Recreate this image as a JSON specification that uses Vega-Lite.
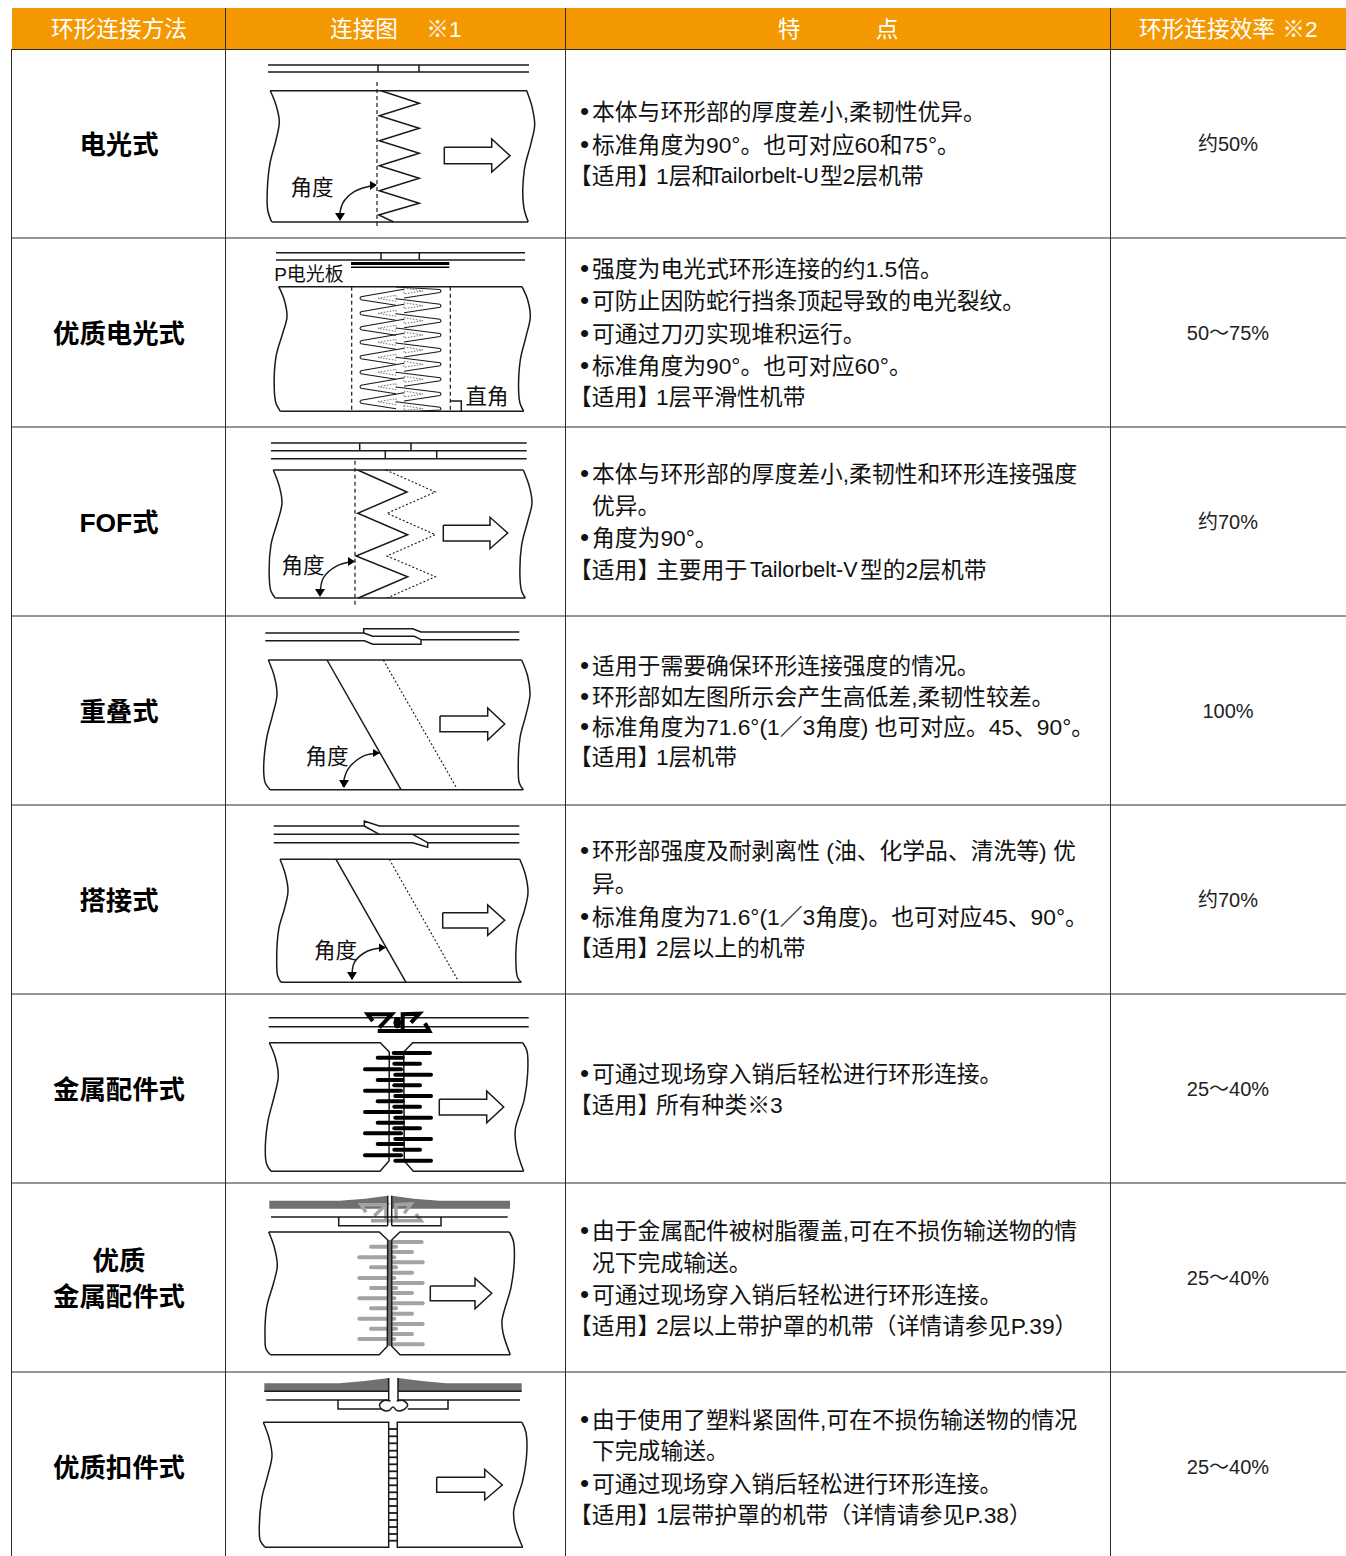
{"$schema":"https://vega.github.io/schema/vega-lite/v6.json","width":1346,"height":1556,"padding":0,"autosize":{"type":"none"},"background":"white","config":{"view":{"stroke":null}},
"encoding":{"x":{"field":"x","type":"quantitative","scale":{"domain":[0,1346],"nice":false,"zero":false},"axis":null},"y":{"field":"y","type":"quantitative","scale":{"domain":[1556,0],"nice":false,"zero":false},"axis":null}},
"datasets":{
"header":[{"x":12,"x2":1346,"y":8,"y2":49}],
"grid":[{"p":"a","x":225.5,"y":8},{"p":"a","x":225.5,"y":1556},{"p":"b","x":565.5,"y":49},{"p":"b","x":565.5,"y":1556},{"p":"c","x":1110.5,"y":49},{"p":"c","x":1110.5,"y":1556},{"p":"d","x":11.5,"y":49},{"p":"d","x":11.5,"y":1556},{"p":"e","x":12,"y":238},{"p":"e","x":1346,"y":238},{"p":"f","x":12,"y":427},{"p":"f","x":1346,"y":427},{"p":"g","x":12,"y":616},{"p":"g","x":1346,"y":616},{"p":"h","x":12,"y":805},{"p":"h","x":1346,"y":805},{"p":"i","x":12,"y":994},{"p":"i","x":1346,"y":994},{"p":"j","x":12,"y":1183},{"p":"j","x":1346,"y":1183},{"p":"k","x":12,"y":1372},{"p":"k","x":1346,"y":1372},{"p":"l","x":12,"y":49.5},{"p":"l","x":1346,"y":49.5},{"p":"m","x":565.5,"y":8},{"p":"m","x":565.5,"y":49},{"p":"n","x":1110.5,"y":8},{"p":"n","x":1110.5,"y":49}],
"solid":[
{"p":"1a","x":268,"y":65},{"p":"1a","x":529,"y":65},{"p":"1b","x":268,"y":72},{"p":"1b","x":529,"y":72},{"p":"1c","x":378,"y":65},{"p":"1c","x":378,"y":72},{"p":"1d","x":419,"y":65},{"p":"1d","x":419,"y":72},{"p":"1e","x":270,"y":90.7},{"p":"1e","x":527,"y":90.7},{"p":"1f","x":272,"y":222},{"p":"1f","x":528,"y":222},
{"p":"1z","x":381,"y":90.7},{"p":"1z","x":419.3,"y":103.3},{"p":"1z","x":379.3,"y":115.7},{"p":"1z","x":419.3,"y":128.3},{"p":"1z","x":379.3,"y":140.7},{"p":"1z","x":419.3,"y":153.3},{"p":"1z","x":379.3,"y":165.7},{"p":"1z","x":419.3,"y":178.3},{"p":"1z","x":379.3,"y":190.7},{"p":"1z","x":419.3,"y":203.3},{"p":"1z","x":378.7,"y":215},{"p":"1z","x":393.7,"y":222},
{"p":"1r","x":444.3,"y":147.3},{"p":"1r","x":491.7,"y":147.3},{"p":"1r","x":491.7,"y":139},{"p":"1r","x":510,"y":155.7},{"p":"1r","x":491.7,"y":172},{"p":"1r","x":491.7,"y":163.7},{"p":"1r","x":444.3,"y":163.7},{"p":"1r","x":444.3,"y":147.3},
{"p":"2a","x":276,"y":252.7},{"p":"2a","x":525,"y":252.7},{"p":"2b","x":276,"y":260},{"p":"2b","x":525,"y":260},{"p":"2c","x":381,"y":252.7},{"p":"2c","x":381,"y":260},{"p":"2d","x":419.3,"y":252.7},{"p":"2d","x":419.3,"y":260},{"p":"2e","x":278.7,"y":286.7},{"p":"2e","x":522,"y":286.7},{"p":"2f","x":280.3,"y":411.3},{"p":"2f","x":523.7,"y":411.3},{"p":"2g","x":450.3,"y":401},{"p":"2g","x":461.3,"y":401},{"p":"2g","x":461.3,"y":411.3},
{"p":"3a","x":271,"y":443},{"p":"3a","x":526.7,"y":443},{"p":"3b","x":271,"y":450.7},{"p":"3b","x":526.7,"y":450.7},{"p":"3c","x":271,"y":458.7},{"p":"3c","x":526.7,"y":458.7},{"p":"3d","x":359.7,"y":443},{"p":"3d","x":359.7,"y":450.7},{"p":"3e","x":411,"y":443},{"p":"3e","x":411,"y":450.7},{"p":"3f","x":385.3,"y":450.7},{"p":"3f","x":385.3,"y":458.7},{"p":"3g","x":436.7,"y":450.7},{"p":"3g","x":436.7,"y":458.7},{"p":"3h","x":273.3,"y":470},{"p":"3h","x":523.3,"y":470},{"p":"3i","x":275.3,"y":598},{"p":"3i","x":525.3,"y":598},
{"p":"3z","x":357.7,"y":470},{"p":"3z","x":407,"y":492},{"p":"3z","x":357.7,"y":513.3},{"p":"3z","x":407.7,"y":534.7},{"p":"3z","x":356,"y":556},{"p":"3z","x":407.7,"y":576.7},{"p":"3z","x":358.3,"y":598},
{"p":"3r","x":443.3,"y":525.3},{"p":"3r","x":490,"y":525.3},{"p":"3r","x":490,"y":517.3},{"p":"3r","x":507.7,"y":533},{"p":"3r","x":490,"y":548.7},{"p":"3r","x":490,"y":541},{"p":"3r","x":443.3,"y":541},{"p":"3r","x":443.3,"y":525.3},
{"p":"4a","x":265.3,"y":633},{"p":"4a","x":363.7,"y":633},{"p":"4a","x":363.7,"y":628.7},{"p":"4a","x":412.7,"y":628.7},{"p":"4a","x":421,"y":632},{"p":"4a","x":519.3,"y":632},
{"p":"4b","x":265.3,"y":640.7},{"p":"4b","x":364.5,"y":640.7},{"p":"4b","x":372.7,"y":644.3},{"p":"4b","x":421,"y":644.3},{"p":"4b","x":421,"y":639.7},{"p":"4b","x":414.3,"y":636.3},{"p":"4b","x":372.7,"y":636.3},{"p":"4b","x":363.7,"y":633},
{"p":"4c","x":421,"y":639.7},{"p":"4c","x":519.3,"y":639.7},{"p":"4d","x":268.3,"y":660},{"p":"4d","x":521.7,"y":660},{"p":"4e","x":270,"y":789.7},{"p":"4e","x":523.3,"y":789.7},{"p":"4f","x":327,"y":660},{"p":"4f","x":401,"y":789.7},
{"p":"4r","x":440,"y":716},{"p":"4r","x":487.7,"y":716},{"p":"4r","x":487.7,"y":708},{"p":"4r","x":504.7,"y":724},{"p":"4r","x":487.7,"y":740},{"p":"4r","x":487.7,"y":731.7},{"p":"4r","x":440,"y":731.7},{"p":"4r","x":440,"y":716},
{"p":"5a","x":273.7,"y":826},{"p":"5a","x":364.3,"y":826},{"p":"5a","x":364.3,"y":821},{"p":"5a","x":379.3,"y":826},{"p":"5a","x":519.3,"y":826},{"p":"5b","x":364.3,"y":826},{"p":"5b","x":379.3,"y":834.3},{"p":"5c","x":273.7,"y":834.3},{"p":"5c","x":519.3,"y":834.3},{"p":"5d","x":412.7,"y":834.3},{"p":"5d","x":427.7,"y":842.7},{"p":"5d","x":427.7,"y":847.3},{"p":"5d","x":412.7,"y":842.7},{"p":"5d","x":273.7,"y":842.7},{"p":"5e","x":427.7,"y":842.7},{"p":"5e","x":519.3,"y":842.7},{"p":"5f","x":280,"y":859.3},{"p":"5f","x":519.7,"y":859.3},{"p":"5g","x":281,"y":982.3},{"p":"5g","x":521.3,"y":982.3},{"p":"5h","x":336,"y":859.3},{"p":"5h","x":406,"y":982.3},
{"p":"5r","x":442.7,"y":912.7},{"p":"5r","x":487.7,"y":912.7},{"p":"5r","x":487.7,"y":905},{"p":"5r","x":504.7,"y":920.3},{"p":"5r","x":487.7,"y":935.3},{"p":"5r","x":487.7,"y":928},{"p":"5r","x":442.7,"y":928},{"p":"5r","x":442.7,"y":912.7},
{"p":"6a","x":268.7,"y":1017.7},{"p":"6a","x":528.7,"y":1017.7},{"p":"6b","x":268.7,"y":1026.7},{"p":"6b","x":528.7,"y":1026.7},
{"p":"6c","x":269.3,"y":1042.7},{"p":"6c","x":380.3,"y":1042.7},{"p":"6c","x":389.3,"y":1052},{"p":"6c","x":389,"y":1161},{"p":"6c","x":380,"y":1171.3},{"p":"6c","x":271,"y":1171.3},
{"p":"6d","x":522.7,"y":1042.7},{"p":"6d","x":412.7,"y":1042.7},{"p":"6d","x":403.7,"y":1052},{"p":"6d","x":404.3,"y":1161},{"p":"6d","x":413.3,"y":1171.3},{"p":"6d","x":523.7,"y":1171.3},
{"p":"6r","x":439.3,"y":1099.3},{"p":"6r","x":486.7,"y":1099.3},{"p":"6r","x":486.7,"y":1091},{"p":"6r","x":503.7,"y":1107},{"p":"6r","x":486.7,"y":1122.7},{"p":"6r","x":486.7,"y":1115},{"p":"6r","x":439.3,"y":1115},{"p":"6r","x":439.3,"y":1099.3}
],
"solid2":[
{"p":"7a","x":271,"y":1217},{"p":"7a","x":507.7,"y":1217},{"p":"7b","x":338.7,"y":1217},{"p":"7b","x":338.7,"y":1225.7},{"p":"7b","x":387.7,"y":1225.7},{"p":"7c","x":441,"y":1217},{"p":"7c","x":441,"y":1225.7},{"p":"7c","x":391.7,"y":1225.7},{"p":"7d","x":387.7,"y":1195.7},{"p":"7d","x":387.7,"y":1225.7},{"p":"7e","x":391.7,"y":1195.7},{"p":"7e","x":391.7,"y":1225.7},
{"p":"7f","x":268.7,"y":1232},{"p":"7f","x":379.3,"y":1232},{"p":"7f","x":387.7,"y":1240},{"p":"7f","x":387.3,"y":1346.3},{"p":"7f","x":379.3,"y":1354.7},{"p":"7f","x":270.3,"y":1354.7},
{"p":"7g","x":509.3,"y":1232},{"p":"7g","x":400,"y":1232},{"p":"7g","x":391.7,"y":1240},{"p":"7g","x":391.7,"y":1346.3},{"p":"7g","x":400,"y":1354.7},{"p":"7g","x":510.3,"y":1354.7},
{"p":"7r","x":430.3,"y":1286},{"p":"7r","x":475,"y":1286},{"p":"7r","x":475,"y":1278.3},{"p":"7r","x":491.7,"y":1293.3},{"p":"7r","x":475,"y":1308.7},{"p":"7r","x":475,"y":1300.7},{"p":"7r","x":430.3,"y":1300.7},{"p":"7r","x":430.3,"y":1286},
{"p":"8a","x":266.3,"y":1400},{"p":"8a","x":388.7,"y":1400},{"p":"8b","x":398,"y":1400},{"p":"8b","x":520,"y":1400},{"p":"8c","x":338,"y":1400},{"p":"8c","x":338,"y":1409},{"p":"8c","x":381,"y":1409},{"p":"8d","x":448,"y":1400},{"p":"8d","x":448,"y":1409},{"p":"8d","x":407.7,"y":1409},{"p":"8e","x":388.7,"y":1378},{"p":"8e","x":388.7,"y":1401},{"p":"8f","x":398,"y":1378},{"p":"8f","x":398,"y":1401},{"p":"8g","x":264.3,"y":1391.3},{"p":"8g","x":388.7,"y":1391.3},{"p":"8h","x":398,"y":1391.3},{"p":"8h","x":521.7,"y":1391.3},
{"p":"8i","x":263.3,"y":1422.3},{"p":"8i","x":388.7,"y":1422.3},{"p":"8i","x":388.7,"y":1547.3},{"p":"8i","x":265,"y":1547.3},{"p":"8j","x":522,"y":1422.3},{"p":"8j","x":397.3,"y":1422.3},{"p":"8j","x":397.3,"y":1547.3},{"p":"8j","x":522.7,"y":1547.3},
{"p":"8r","x":436.7,"y":1477.3},{"p":"8r","x":484.7,"y":1477.3},{"p":"8r","x":484.7,"y":1469.3},{"p":"8r","x":502.3,"y":1485},{"p":"8r","x":484.7,"y":1500},{"p":"8r","x":484.7,"y":1492.3},{"p":"8r","x":436.7,"y":1492.3},{"p":"8r","x":436.7,"y":1477.3}
],
"rungs":[{"p":"r1","x":388.7,"y":1429},{"p":"r1","x":397.3,"y":1429},{"p":"r2","x":388.7,"y":1436.3},{"p":"r2","x":397.3,"y":1436.3},{"p":"r3","x":388.7,"y":1443.3},{"p":"r3","x":397.3,"y":1443.3},{"p":"r4","x":388.7,"y":1450.7},{"p":"r4","x":397.3,"y":1450.7},{"p":"r5","x":388.7,"y":1457.3},{"p":"r5","x":397.3,"y":1457.3},{"p":"r6","x":388.7,"y":1464.3},{"p":"r6","x":397.3,"y":1464.3},{"p":"r7","x":388.7,"y":1471.3},{"p":"r7","x":397.3,"y":1471.3},{"p":"r8","x":388.7,"y":1478.3},{"p":"r8","x":397.3,"y":1478.3},{"p":"r9","x":388.7,"y":1485.3},{"p":"r9","x":397.3,"y":1485.3},{"p":"r10","x":388.7,"y":1492.3},{"p":"r10","x":397.3,"y":1492.3},{"p":"r11","x":388.7,"y":1499},{"p":"r11","x":397.3,"y":1499},{"p":"r12","x":388.7,"y":1506},{"p":"r12","x":397.3,"y":1506},{"p":"r13","x":388.7,"y":1513},{"p":"r13","x":397.3,"y":1513},{"p":"r14","x":388.7,"y":1520},{"p":"r14","x":397.3,"y":1520},{"p":"r15","x":388.7,"y":1527},{"p":"r15","x":397.3,"y":1527},{"p":"r16","x":388.7,"y":1534},{"p":"r16","x":397.3,"y":1534},{"p":"r17","x":388.7,"y":1540.7},{"p":"r17","x":397.3,"y":1540.7}],
"wedge":[
{"p":"L1","x":404,"y":289.3},{"p":"L1","x":361,"y":296.8},{"p":"L1","x":360,"y":298.3},{"p":"L1","x":361,"y":299.8},{"p":"L1","x":396,"y":305.3},
{"p":"L2","x":404,"y":304.3},{"p":"L2","x":361,"y":311.8},{"p":"L2","x":360,"y":313.3},{"p":"L2","x":361,"y":314.8},{"p":"L2","x":396,"y":320.3},
{"p":"L3","x":404,"y":319.3},{"p":"L3","x":361,"y":326.8},{"p":"L3","x":360,"y":328.3},{"p":"L3","x":361,"y":329.8},{"p":"L3","x":396,"y":335.3},
{"p":"L4","x":404,"y":333.3},{"p":"L4","x":361,"y":340.8},{"p":"L4","x":360,"y":342.3},{"p":"L4","x":361,"y":343.8},{"p":"L4","x":396,"y":349.3},
{"p":"L5","x":404,"y":348.3},{"p":"L5","x":361,"y":355.8},{"p":"L5","x":360,"y":357.3},{"p":"L5","x":361,"y":358.8},{"p":"L5","x":396,"y":364.3},
{"p":"L6","x":404,"y":363.3},{"p":"L6","x":361,"y":370.8},{"p":"L6","x":360,"y":372.3},{"p":"L6","x":361,"y":373.8},{"p":"L6","x":396,"y":379.3},
{"p":"L7","x":404,"y":377.7},{"p":"L7","x":361,"y":385.2},{"p":"L7","x":360,"y":386.7},{"p":"L7","x":361,"y":388.2},{"p":"L7","x":396,"y":393.7},
{"p":"L8","x":404,"y":392.7},{"p":"L8","x":361,"y":400.2},{"p":"L8","x":360,"y":401.7},{"p":"L8","x":361,"y":403.2},{"p":"L8","x":396,"y":408.7},
{"p":"R1","x":396,"y":287},{"p":"R1","x":440,"y":289.5},{"p":"R1","x":441,"y":291},{"p":"R1","x":440,"y":292.5},{"p":"R1","x":404,"y":298},
{"p":"R2","x":396,"y":298.7},{"p":"R2","x":440,"y":304.2},{"p":"R2","x":441,"y":305.7},{"p":"R2","x":440,"y":307.2},{"p":"R2","x":404,"y":312.7},
{"p":"R3","x":396,"y":313.7},{"p":"R3","x":440,"y":319.2},{"p":"R3","x":441,"y":320.7},{"p":"R3","x":440,"y":322.2},{"p":"R3","x":404,"y":327.7},
{"p":"R4","x":396,"y":328},{"p":"R4","x":440,"y":333.5},{"p":"R4","x":441,"y":335},{"p":"R4","x":440,"y":336.5},{"p":"R4","x":404,"y":342},
{"p":"R5","x":396,"y":343},{"p":"R5","x":440,"y":348.5},{"p":"R5","x":441,"y":350},{"p":"R5","x":440,"y":351.5},{"p":"R5","x":404,"y":357},
{"p":"R6","x":396,"y":357.3},{"p":"R6","x":440,"y":362.8},{"p":"R6","x":441,"y":364.3},{"p":"R6","x":440,"y":365.8},{"p":"R6","x":404,"y":371.3},
{"p":"R7","x":396,"y":372.3},{"p":"R7","x":440,"y":377.8},{"p":"R7","x":441,"y":379.3},{"p":"R7","x":440,"y":380.8},{"p":"R7","x":404,"y":386.3},
{"p":"R8","x":396,"y":387},{"p":"R8","x":440,"y":392.5},{"p":"R8","x":441,"y":394},{"p":"R8","x":440,"y":395.5},{"p":"R8","x":404,"y":401},
{"p":"R9","x":396,"y":401.7},{"p":"R9","x":440,"y":407.2},{"p":"R9","x":441,"y":408.7},{"p":"R9","x":440,"y":410},{"p":"R9","x":420,"y":411}
],
"tiny":[
{"p":"l1","x":378,"y":298.3},{"p":"l1","x":396,"y":295.3},{"p":"l1","x":396,"y":301.3},{"p":"l1","x":378,"y":298.3},{"p":"l2","x":378,"y":313.3},{"p":"l2","x":396,"y":310.3},{"p":"l2","x":396,"y":316.3},{"p":"l2","x":378,"y":313.3},{"p":"l3","x":378,"y":328.3},{"p":"l3","x":396,"y":325.3},{"p":"l3","x":396,"y":331.3},{"p":"l3","x":378,"y":328.3},{"p":"l4","x":378,"y":342.3},{"p":"l4","x":396,"y":339.3},{"p":"l4","x":396,"y":345.3},{"p":"l4","x":378,"y":342.3},{"p":"l5","x":378,"y":357.3},{"p":"l5","x":396,"y":354.3},{"p":"l5","x":396,"y":360.3},{"p":"l5","x":378,"y":357.3},{"p":"l6","x":378,"y":372.3},{"p":"l6","x":396,"y":369.3},{"p":"l6","x":396,"y":375.3},{"p":"l6","x":378,"y":372.3},{"p":"l7","x":378,"y":386.7},{"p":"l7","x":396,"y":383.7},{"p":"l7","x":396,"y":389.7},{"p":"l7","x":378,"y":386.7},{"p":"l8","x":378,"y":401.7},{"p":"l8","x":396,"y":398.7},{"p":"l8","x":396,"y":404.7},{"p":"l8","x":378,"y":401.7},
{"p":"r1","x":404,"y":288},{"p":"r1","x":423,"y":291},{"p":"r1","x":404,"y":294},{"p":"r1","x":404,"y":288},{"p":"r2","x":404,"y":302.7},{"p":"r2","x":423,"y":305.7},{"p":"r2","x":404,"y":308.7},{"p":"r2","x":404,"y":302.7},{"p":"r3","x":404,"y":317.7},{"p":"r3","x":423,"y":320.7},{"p":"r3","x":404,"y":323.7},{"p":"r3","x":404,"y":317.7},{"p":"r4","x":404,"y":332},{"p":"r4","x":423,"y":335},{"p":"r4","x":404,"y":338},{"p":"r4","x":404,"y":332},{"p":"r5","x":404,"y":347},{"p":"r5","x":423,"y":350},{"p":"r5","x":404,"y":353},{"p":"r5","x":404,"y":347},{"p":"r6","x":404,"y":361.3},{"p":"r6","x":423,"y":364.3},{"p":"r6","x":404,"y":367.3},{"p":"r6","x":404,"y":361.3},{"p":"r7","x":404,"y":376.3},{"p":"r7","x":423,"y":379.3},{"p":"r7","x":404,"y":382.3},{"p":"r7","x":404,"y":376.3},{"p":"r8","x":404,"y":391},{"p":"r8","x":423,"y":394},{"p":"r8","x":404,"y":397},{"p":"r8","x":404,"y":391},{"p":"r9","x":404,"y":405.7},{"p":"r9","x":423,"y":408.7},{"p":"r9","x":404,"y":410.5},{"p":"r9","x":404,"y":405.7}
],
"curve":[
{"p":"1L","x":270.3,"y":90.7},{"p":"1L","x":276,"y":105},{"p":"1L","x":279.3,"y":121.7},{"p":"1L","x":276,"y":140},{"p":"1L","x":270,"y":163.3},{"p":"1L","x":267.3,"y":190},{"p":"1L","x":267.7,"y":210},{"p":"1L","x":271.7,"y":222},
{"p":"1R","x":526.7,"y":90.7},{"p":"1R","x":532,"y":106.7},{"p":"1R","x":534.7,"y":125},{"p":"1R","x":531,"y":143.3},{"p":"1R","x":524.3,"y":170},{"p":"1R","x":523.7,"y":206.7},{"p":"1R","x":528.3,"y":222},
{"p":"1A","x":374.3,"y":185},{"p":"1A","x":354.3,"y":191.7},{"p":"1A","x":342.7,"y":203.3},{"p":"1A","x":339.3,"y":218.3},
{"p":"2L","x":278.7,"y":286.7},{"p":"2L","x":284.3,"y":300},{"p":"2L","x":287,"y":316.7},{"p":"2L","x":282.7,"y":333.3},{"p":"2L","x":276,"y":356.7},{"p":"2L","x":274.3,"y":390},{"p":"2L","x":276,"y":403.3},{"p":"2L","x":280.3,"y":411.3},
{"p":"2R","x":522,"y":286.7},{"p":"2R","x":527.7,"y":300},{"p":"2R","x":530.3,"y":316.7},{"p":"2R","x":526,"y":336.7},{"p":"2R","x":520.3,"y":360},{"p":"2R","x":518.7,"y":393.3},{"p":"2R","x":520,"y":403.3},{"p":"2R","x":523.7,"y":411.3},
{"p":"3L","x":273.3,"y":470},{"p":"3L","x":279.3,"y":486.3},{"p":"3L","x":282,"y":503},{"p":"3L","x":277.7,"y":521.3},{"p":"3L","x":271,"y":544.7},{"p":"3L","x":269.3,"y":578},{"p":"3L","x":271,"y":591.3},{"p":"3L","x":275.3,"y":598},
{"p":"3R","x":523.3,"y":470},{"p":"3R","x":529.3,"y":486.3},{"p":"3R","x":532,"y":503},{"p":"3R","x":527.7,"y":521.3},{"p":"3R","x":521.7,"y":544.7},{"p":"3R","x":520,"y":578},{"p":"3R","x":521.7,"y":591.3},{"p":"3R","x":525.3,"y":598},
{"p":"3A","x":354.3,"y":561.3},{"p":"3A","x":336,"y":566.3},{"p":"3A","x":323.3,"y":578},{"p":"3A","x":320,"y":594.7},
{"p":"4L","x":268.3,"y":660},{"p":"4L","x":274.3,"y":676.3},{"p":"4L","x":277,"y":694.7},{"p":"4L","x":272.7,"y":714.7},{"p":"4L","x":266.7,"y":738},{"p":"4L","x":263.7,"y":771.3},{"p":"4L","x":265.3,"y":783},{"p":"4L","x":270,"y":789.7},
{"p":"4R","x":521.7,"y":660},{"p":"4R","x":527.7,"y":676.3},{"p":"4R","x":530,"y":694.7},{"p":"4R","x":526,"y":714.7},{"p":"4R","x":520,"y":738},{"p":"4R","x":518.3,"y":771.3},{"p":"4R","x":519.3,"y":783},{"p":"4R","x":523.3,"y":789.7},
{"p":"4A","x":379.3,"y":753},{"p":"4A","x":362.7,"y":756.3},{"p":"4A","x":347.7,"y":769.7},{"p":"4A","x":342.7,"y":786.3},
{"p":"5L","x":280,"y":859.3},{"p":"5L","x":285.3,"y":874.3},{"p":"5L","x":288,"y":891},{"p":"5L","x":284.3,"y":909.3},{"p":"5L","x":278.7,"y":929.3},{"p":"5L","x":276.7,"y":962.7},{"p":"5L","x":277.7,"y":976},{"p":"5L","x":281,"y":982.3},
{"p":"5R","x":519.7,"y":859.3},{"p":"5R","x":525.3,"y":874.3},{"p":"5R","x":528,"y":892.7},{"p":"5R","x":524.3,"y":911},{"p":"5R","x":517.7,"y":932.7},{"p":"5R","x":516,"y":966},{"p":"5R","x":517.7,"y":977.7},{"p":"5R","x":521.3,"y":982.3},
{"p":"5A","x":384.3,"y":947.7},{"p":"5A","x":367.7,"y":951},{"p":"5A","x":354.3,"y":962.7},{"p":"5A","x":352,"y":979.3},
{"p":"6L","x":269.3,"y":1042.7},{"p":"6L","x":275.3,"y":1057.7},{"p":"6L","x":278.3,"y":1076},{"p":"6L","x":274.3,"y":1096},{"p":"6L","x":267.7,"y":1122.7},{"p":"6L","x":265.3,"y":1152.7},{"p":"6L","x":266.7,"y":1164.3},{"p":"6L","x":271,"y":1171.3},
{"p":"6R","x":522.7,"y":1042.7},{"p":"6R","x":527,"y":1051},{"p":"6R","x":527.7,"y":1072.7},{"p":"6R","x":524.3,"y":1099.3},{"p":"6R","x":515.3,"y":1129.3},{"p":"6R","x":516.7,"y":1149.3},{"p":"6R","x":523.7,"y":1171.3},
{"p":"7L","x":268.7,"y":1232},{"p":"7L","x":274.3,"y":1247.3},{"p":"7L","x":277.3,"y":1265.7},{"p":"7L","x":273.3,"y":1284},{"p":"7L","x":266.7,"y":1307.3},{"p":"7L","x":265,"y":1337.3},{"p":"7L","x":266,"y":1349},{"p":"7L","x":270.3,"y":1354.7},
{"p":"7R","x":509.3,"y":1232},{"p":"7R","x":513.3,"y":1240.7},{"p":"7R","x":514.3,"y":1260.7},{"p":"7R","x":511,"y":1287.3},{"p":"7R","x":502,"y":1320.7},{"p":"7R","x":503.3,"y":1334},{"p":"7R","x":510.3,"y":1354.7},
{"p":"8L","x":263.3,"y":1422.3},{"p":"8L","x":269.3,"y":1439},{"p":"8L","x":272,"y":1455.7},{"p":"8L","x":267.7,"y":1475.7},{"p":"8L","x":261.7,"y":1499},{"p":"8L","x":259.3,"y":1530.7},{"p":"8L","x":260.3,"y":1540.7},{"p":"8L","x":265,"y":1547.3},
{"p":"8R","x":522,"y":1422.3},{"p":"8R","x":526,"y":1432.3},{"p":"8R","x":526.7,"y":1454},{"p":"8R","x":522.7,"y":1480.7},{"p":"8R","x":513.7,"y":1510.7},{"p":"8R","x":515.3,"y":1527.3},{"p":"8R","x":522.7,"y":1547.3},
{"p":"8O","x":390.5,"y":1401},{"p":"8O","x":384,"y":1400.5},{"p":"8O","x":379.5,"y":1405},{"p":"8O","x":383,"y":1410},{"p":"8O","x":389,"y":1410.5},{"p":"8O","x":393,"y":1407},{"p":"8O","x":397,"y":1410.5},{"p":"8O","x":403,"y":1410},{"p":"8O","x":407.7,"y":1405},{"p":"8O","x":403,"y":1400.5},{"p":"8O","x":396.7,"y":1401}
],
"dash":[{"p":"1","x":377,"y":82},{"p":"1","x":377,"y":227},{"p":"2a","x":351.7,"y":286.7},{"p":"2a","x":351.7,"y":411.3},{"p":"2b","x":450.3,"y":286.7},{"p":"2b","x":450.3,"y":411.3},{"p":"3","x":355,"y":460.7},{"p":"3","x":355,"y":604.7}],
"dot":[{"p":"3","x":386,"y":470},{"p":"3","x":435.3,"y":492},{"p":"3","x":387,"y":513.3},{"p":"3","x":435.3,"y":534.7},{"p":"3","x":387,"y":556},{"p":"3","x":435.3,"y":576.7},{"p":"3","x":387,"y":598},{"p":"4","x":383.3,"y":660},{"p":"4","x":456.7,"y":788},{"p":"5","x":389.3,"y":859.3},{"p":"5","x":458.3,"y":981}],
"thick":[
{"p":"a1","x":377.7,"y":1057.7},{"p":"a1","x":402.7,"y":1057.7},{"p":"a2","x":365,"y":1069.3},{"p":"a2","x":401,"y":1069.3},{"p":"a3","x":377.7,"y":1080},{"p":"a3","x":402.7,"y":1080},{"p":"a4","x":365,"y":1090.7},{"p":"a4","x":401,"y":1090.7},{"p":"a5","x":377.7,"y":1101.3},{"p":"a5","x":402.7,"y":1101.3},{"p":"a6","x":365,"y":1112},{"p":"a6","x":401,"y":1112},{"p":"a7","x":377.7,"y":1122.7},{"p":"a7","x":402.7,"y":1122.7},{"p":"a8","x":365,"y":1133.3},{"p":"a8","x":401,"y":1133.3},{"p":"a9","x":377.7,"y":1144},{"p":"a9","x":402.7,"y":1144},{"p":"a10","x":365,"y":1155.3},{"p":"a10","x":401,"y":1155.3},
{"p":"b1","x":393.7,"y":1053},{"p":"b1","x":430,"y":1053},{"p":"b2","x":394.3,"y":1063.7},{"p":"b2","x":420,"y":1063.7},{"p":"b3","x":395.3,"y":1074.7},{"p":"b3","x":431,"y":1074.7},{"p":"b4","x":394.3,"y":1085.3},{"p":"b4","x":420,"y":1085.3},{"p":"b5","x":395.3,"y":1096},{"p":"b5","x":431,"y":1096},{"p":"b6","x":394.3,"y":1106.7},{"p":"b6","x":420,"y":1106.7},{"p":"b7","x":395.3,"y":1117.7},{"p":"b7","x":431,"y":1117.7},{"p":"b8","x":394.3,"y":1128.3},{"p":"b8","x":420,"y":1128.3},{"p":"b9","x":395.3,"y":1139},{"p":"b9","x":431,"y":1139},{"p":"b10","x":394.3,"y":1149.7},{"p":"b10","x":420,"y":1149.7},{"p":"b11","x":395.3,"y":1160.7},{"p":"b11","x":431,"y":1160.7}],
"clip":[{"p":"a","x":372.7,"y":1021},{"p":"a","x":367.7,"y":1014.3},{"p":"a","x":391.7,"y":1014.3},{"p":"a","x":379.3,"y":1027.7},{"p":"b","x":425,"y":1023.3},{"p":"b","x":429.3,"y":1031},{"p":"b","x":377.7,"y":1031},{"p":"c","x":411,"y":1022.7},{"p":"c","x":419.3,"y":1013.7},{"p":"c","x":402.7,"y":1014.3},{"p":"c","x":402.7,"y":1030}],
"grayBars":[
{"p":"a1","x":371,"y":1246.7},{"p":"a1","x":396,"y":1246.7},{"p":"a2","x":359.3,"y":1257.3},{"p":"a2","x":394.3,"y":1257.3},{"p":"a3","x":371,"y":1267.3},{"p":"a3","x":396,"y":1267.3},{"p":"a4","x":359.3,"y":1278},{"p":"a4","x":394.3,"y":1278},{"p":"a5","x":371,"y":1288},{"p":"a5","x":396,"y":1288},{"p":"a6","x":359.3,"y":1298.3},{"p":"a6","x":394.3,"y":1298.3},{"p":"a7","x":371,"y":1308.3},{"p":"a7","x":396,"y":1308.3},{"p":"a8","x":359.3,"y":1318.7},{"p":"a8","x":394.3,"y":1318.7},{"p":"a9","x":371,"y":1328.7},{"p":"a9","x":396,"y":1328.7},{"p":"a10","x":359.3,"y":1339},{"p":"a10","x":394.3,"y":1339},
{"p":"b1","x":391.7,"y":1242},{"p":"b1","x":421.7,"y":1242},{"p":"b2","x":391.7,"y":1252},{"p":"b2","x":412,"y":1252},{"p":"b3","x":391.7,"y":1262.3},{"p":"b3","x":422.7,"y":1262.3},{"p":"b4","x":391.7,"y":1272.7},{"p":"b4","x":412,"y":1272.7},{"p":"b5","x":391.7,"y":1283},{"p":"b5","x":422.7,"y":1283},{"p":"b6","x":391.7,"y":1293},{"p":"b6","x":412,"y":1293},{"p":"b7","x":391.7,"y":1303.3},{"p":"b7","x":422.7,"y":1303.3},{"p":"b8","x":391.7,"y":1313.7},{"p":"b8","x":412,"y":1313.7},{"p":"b9","x":391.7,"y":1324},{"p":"b9","x":422.7,"y":1324},{"p":"b10","x":391.7,"y":1334},{"p":"b10","x":412,"y":1334},{"p":"b11","x":391.7,"y":1344.3},{"p":"b11","x":422.7,"y":1344.3}],
"grayClip":[{"p":"a","x":366,"y":1212.3},{"p":"a","x":361,"y":1204.7},{"p":"a","x":386,"y":1204.7},{"p":"a","x":374.3,"y":1215.7},{"p":"b","x":416,"y":1214},{"p":"b","x":421,"y":1220.7},{"p":"b","x":371,"y":1220.7},{"p":"c","x":404.3,"y":1213.3},{"p":"c","x":411,"y":1204},{"p":"c","x":396,"y":1204.7},{"p":"c","x":396,"y":1220.7},{"p":"d","x":386,"y":1206},{"p":"d","x":386,"y":1220}],
"fillBlack":[
{"p":"1a","x":370,"y":181,"y2":190},{"p":"1a","x":377,"y":185,"y2":185},{"p":"1b","x":335,"y":213,"y2":213},{"p":"1b","x":340,"y":213,"y2":221},{"p":"1b","x":345,"y":213,"y2":213},
{"p":"3a","x":348,"y":557,"y2":566},{"p":"3a","x":355,"y":561.5,"y2":561.5},{"p":"3b","x":315,"y":589,"y2":589},{"p":"3b","x":320,"y":589,"y2":597},{"p":"3b","x":325,"y":589,"y2":589},
{"p":"4a","x":373,"y":749,"y2":757},{"p":"4a","x":380,"y":753,"y2":753},{"p":"4b","x":339,"y":780,"y2":780},{"p":"4b","x":344,"y":780,"y2":788},{"p":"4b","x":349,"y":780,"y2":780},
{"p":"5a","x":379,"y":943.5,"y2":952},{"p":"5a","x":386,"y":947.5,"y2":947.5},{"p":"5b","x":347,"y":972,"y2":972},{"p":"5b","x":352,"y":972,"y2":980},{"p":"5b","x":357,"y":972,"y2":972},
{"p":"bar1","x":351,"y":262,"y2":265},{"p":"bar1","x":449.3,"y":262,"y2":265},{"p":"bar2","x":351,"y":266.5,"y2":268},{"p":"bar2","x":449.3,"y":266.5,"y2":268},
{"p":"ov","x":393.3,"y":1022.7,"y2":1022.7},{"p":"ov","x":394.5,"y":1018,"y2":1027.5},{"p":"ov","x":397.3,"y":1017,"y2":1028.5},{"p":"ov","x":400.2,"y":1018,"y2":1027.5},{"p":"ov","x":401.3,"y":1022.7,"y2":1022.7}],
"fillDark":[
{"p":"7a","x":269.3,"y":1200.7,"y2":1208.7},{"p":"7a","x":339.3,"y":1200.7,"y2":1208.7},{"p":"7a","x":365,"y":1198.7,"y2":1208.7},{"p":"7a","x":387.7,"y":1195.7,"y2":1208.7},{"p":"7b","x":391.7,"y":1195.7,"y2":1208.7},{"p":"7b","x":414,"y":1198.7,"y2":1208.7},{"p":"7b","x":439.3,"y":1200.7,"y2":1208.7},{"p":"7b","x":510,"y":1200.7,"y2":1208.7},
{"p":"7c","x":387.5,"y":1240,"y2":1346},{"p":"7c","x":391.7,"y":1240,"y2":1346},
{"p":"8a","x":264.3,"y":1383.3,"y2":1391.3},{"p":"8a","x":339.3,"y":1383.3,"y2":1391.3},{"p":"8a","x":365,"y":1381,"y2":1391.3},{"p":"8a","x":388.7,"y":1378,"y2":1391.3},{"p":"8b","x":398,"y":1378,"y2":1391.3},{"p":"8b","x":422,"y":1381,"y2":1391.3},{"p":"8b","x":446,"y":1383.3,"y2":1391.3},{"p":"8b","x":521.7,"y":1383.3,"y2":1391.3}],
"head":[{"t":"环形连接方法","x":119,"y":29},{"t":"连接图","x":364,"y":29},{"t":"※1","x":444,"y":29},{"t":"特","x":789,"y":29},{"t":"点","x":887,"y":29},{"t":"环形连接效率","x":1207,"y":29},{"t":"※2","x":1300,"y":29}],
"names":[{"t":"电光式","x":119,"y":144},{"t":"优质电光式","x":119,"y":333},{"t":"FOF式","x":119,"y":522},{"t":"重叠式","x":119,"y":711},{"t":"搭接式","x":119,"y":900},{"t":"金属配件式","x":119,"y":1089},{"t":"优质","x":119,"y":1260},{"t":"金属配件式","x":119,"y":1296},{"t":"优质扣件式","x":119,"y":1467}],
"eff":[{"t":"约50%","x":1228,"y":144},{"t":"50～75%","x":1228,"y":333},{"t":"约70%","x":1228,"y":522},{"t":"100%","x":1228,"y":711},{"t":"约70%","x":1228,"y":900},{"t":"25～40%","x":1228,"y":1089},{"t":"25～40%","x":1228,"y":1278},{"t":"25～40%","x":1228,"y":1467}],
"labels":[{"t":"角度","x":312,"y":187},{"t":"直角","x":487,"y":396},{"t":"角度","x":303,"y":565},{"t":"角度","x":327,"y":756},{"t":"角度","x":335.5,"y":950}],
"labelsSmall":[{"t":"P电光板","x":309,"y":274}],
"bullets":[{"t":"•","x":584.5,"y":112},{"t":"•","x":584.5,"y":144.5},{"t":"•","x":584.5,"y":269},{"t":"•","x":584.5,"y":301},{"t":"•","x":584.5,"y":333.5},{"t":"•","x":584.5,"y":365.5},{"t":"•","x":584.5,"y":473.5},{"t":"•","x":584.5,"y":538},{"t":"•","x":584.5,"y":666},{"t":"•","x":584.5,"y":697},{"t":"•","x":584.5,"y":727},{"t":"•","x":584.5,"y":851},{"t":"•","x":584.5,"y":916.5},{"t":"•","x":584.5,"y":1073.5},{"t":"•","x":584.5,"y":1230.5},{"t":"•","x":584.5,"y":1294.5},{"t":"•","x":584.5,"y":1419.5},{"t":"•","x":584.5,"y":1483.5}],
"latin":[{"t":"Tailorbelt-U","x":710,"y":176},{"t":"Tailorbelt-V","x":750,"y":570}],
"feat":[
{"t":"本体与环形部的厚度差小,柔韧性优异。","x":592,"y":112},{"t":"标准角度为90°。也可对应60和75°。","x":592,"y":144.5},{"t":"【适用】","x":569,"y":176},{"t":"1层和","x":656,"y":176},{"t":"型2层机带","x":820,"y":176},
{"t":"强度为电光式环形连接的约1.5倍。","x":592,"y":269},{"t":"可防止因防蛇行挡条顶起导致的电光裂纹。","x":592,"y":301},{"t":"可通过刀刃实现堆积运行。","x":592,"y":333.5},{"t":"标准角度为90°。也可对应60°。","x":592,"y":365.5},{"t":"【适用】","x":569,"y":397},{"t":"1层平滑性机带","x":656,"y":397},
{"t":"本体与环形部的厚度差小,柔韧性和环形连接强度","x":592,"y":473.5},{"t":"优异。","x":592,"y":506},{"t":"角度为90°。","x":592,"y":538},{"t":"【适用】","x":569,"y":570},{"t":"主要用于","x":656,"y":570},{"t":"型的2层机带","x":860,"y":570},
{"t":"适用于需要确保环形连接强度的情况。","x":592,"y":666},{"t":"环形部如左图所示会产生高低差,柔韧性较差。","x":592,"y":697},{"t":"标准角度为71.6°(1／3角度) 也可对应。45、90°。","x":592,"y":727},{"t":"【适用】","x":569,"y":757},{"t":"1层机带","x":656,"y":757},
{"t":"环形部强度及耐剥离性 (油、化学品、清洗等) 优","x":592,"y":851},{"t":"异。","x":592,"y":884},{"t":"标准角度为71.6°(1／3角度)。也可对应45、90°。","x":592,"y":916.5},{"t":"【适用】","x":569,"y":948},{"t":"2层以上的机带","x":656,"y":948},
{"t":"可通过现场穿入销后轻松进行环形连接。","x":592,"y":1073.5},{"t":"【适用】","x":569,"y":1105},{"t":"所有种类※3","x":656,"y":1105},
{"t":"由于金属配件被树脂覆盖,可在不损伤输送物的情","x":592,"y":1230.5},{"t":"况下完成输送。","x":592,"y":1262.5},{"t":"可通过现场穿入销后轻松进行环形连接。","x":592,"y":1294.5},{"t":"【适用】","x":569,"y":1326},{"t":"2层以上带护罩的机带（详情请参见P.39）","x":656,"y":1326},
{"t":"由于使用了塑料紧固件,可在不损伤输送物的情况","x":592,"y":1419.5},{"t":"下完成输送。","x":592,"y":1451},{"t":"可通过现场穿入销后轻松进行环形连接。","x":592,"y":1483.5},{"t":"【适用】","x":569,"y":1515},{"t":"1层带护罩的机带（详情请参见P.38）","x":656,"y":1515}
]},
"layer":[
{"data":{"name":"header"},"mark":{"type":"rect","color":"#F39800"},"encoding":{"x2":{"field":"x2"},"y2":{"field":"y2"}}},
{"data":{"name":"grid"},"mark":{"type":"line","color":"#2b2b2b","strokeWidth":1},"encoding":{"detail":{"field":"p"},"order":{"value":null}}},
{"data":{"name":"grayBars"},"mark":{"type":"line","color":"#a3a3a3","strokeWidth":4,"strokeCap":"round"},"encoding":{"detail":{"field":"p"},"order":{"value":null}}},
{"data":{"name":"fillDark"},"mark":{"type":"area","color":"#707070"},"encoding":{"y2":{"field":"y2"},"detail":{"field":"p"}}},
{"data":{"name":"grayClip"},"mark":{"type":"line","color":"#a3a3a3","strokeWidth":3.5},"encoding":{"detail":{"field":"p"},"order":{"value":null}}},
{"data":{"name":"solid"},"mark":{"type":"line","color":"#1a1a1a","strokeWidth":1.5},"encoding":{"detail":{"field":"p"},"order":{"value":null}}},
{"data":{"name":"solid2"},"mark":{"type":"line","color":"#1a1a1a","strokeWidth":1.5},"encoding":{"detail":{"field":"p"},"order":{"value":null}}},
{"data":{"name":"rungs"},"mark":{"type":"line","color":"#1a1a1a","strokeWidth":1.8},"encoding":{"detail":{"field":"p"},"order":{"value":null}}},
{"data":{"name":"wedge"},"mark":{"type":"line","color":"#1a1a1a","strokeWidth":1.1},"encoding":{"detail":{"field":"p"},"order":{"value":null}}},
{"data":{"name":"tiny"},"mark":{"type":"line","color":"#333333","strokeWidth":0.7,"strokeDash":[1.5,1.5]},"encoding":{"detail":{"field":"p"},"order":{"value":null}}},
{"data":{"name":"curve"},"mark":{"type":"line","color":"#1a1a1a","strokeWidth":1.5,"interpolate":"catmull-rom"},"encoding":{"detail":{"field":"p"},"order":{"value":null}}},
{"data":{"name":"dash"},"mark":{"type":"line","color":"#1a1a1a","strokeWidth":1.2,"strokeDash":[4,3]},"encoding":{"detail":{"field":"p"},"order":{"value":null}}},
{"data":{"name":"dot"},"mark":{"type":"line","color":"#1a1a1a","strokeWidth":1.1,"strokeDash":[2,2]},"encoding":{"detail":{"field":"p"},"order":{"value":null}}},
{"data":{"name":"thick"},"mark":{"type":"line","color":"#000000","strokeWidth":4,"strokeCap":"round"},"encoding":{"detail":{"field":"p"},"order":{"value":null}}},
{"data":{"name":"clip"},"mark":{"type":"line","color":"#000000","strokeWidth":4},"encoding":{"detail":{"field":"p"},"order":{"value":null}}},
{"data":{"name":"fillBlack"},"mark":{"type":"area","color":"#000000"},"encoding":{"y2":{"field":"y2"},"detail":{"field":"p"}}},
{"data":{"name":"head"},"mark":{"type":"text","color":"white","fontSize":22.7,"dy":1,"font":"Liberation Sans, Noto Sans CJK SC","baseline":"middle"},"encoding":{"text":{"field":"t"}}},
{"data":{"name":"names"},"mark":{"type":"text","color":"#000000","fontSize":26.4,"dy":2,"font":"Liberation Sans, Noto Sans CJK SC","fontWeight":"bold","baseline":"middle"},"encoding":{"text":{"field":"t"}}},
{"data":{"name":"eff"},"mark":{"type":"text","color":"#222222","fontSize":20,"dy":1,"font":"Liberation Sans, Noto Sans CJK SC","baseline":"middle"},"encoding":{"text":{"field":"t"}}},
{"data":{"name":"labels"},"mark":{"type":"text","color":"#111111","fontSize":21.5,"dy":2,"font":"Liberation Sans, Noto Sans CJK SC","baseline":"middle"},"encoding":{"text":{"field":"t"}}},
{"data":{"name":"labelsSmall"},"mark":{"type":"text","color":"#111111","fontSize":19,"dy":1,"font":"Liberation Sans, Noto Sans CJK SC","baseline":"middle"},"encoding":{"text":{"field":"t"}}},
{"data":{"name":"bullets"},"mark":{"type":"text","color":"#111111","fontSize":26,"font":"Liberation Sans","baseline":"middle"},"encoding":{"text":{"field":"t"}}},
{"data":{"name":"latin"},"mark":{"type":"text","color":"#111111","fontSize":21.5,"dy":1,"align":"left","font":"Liberation Sans","baseline":"middle"},"encoding":{"text":{"field":"t"}}},
{"data":{"name":"feat"},"mark":{"type":"text","color":"#111111","fontSize":22.8,"dy":1,"align":"left","font":"Liberation Sans, Noto Sans CJK SC","baseline":"middle"},"encoding":{"text":{"field":"t"}}}
]}
